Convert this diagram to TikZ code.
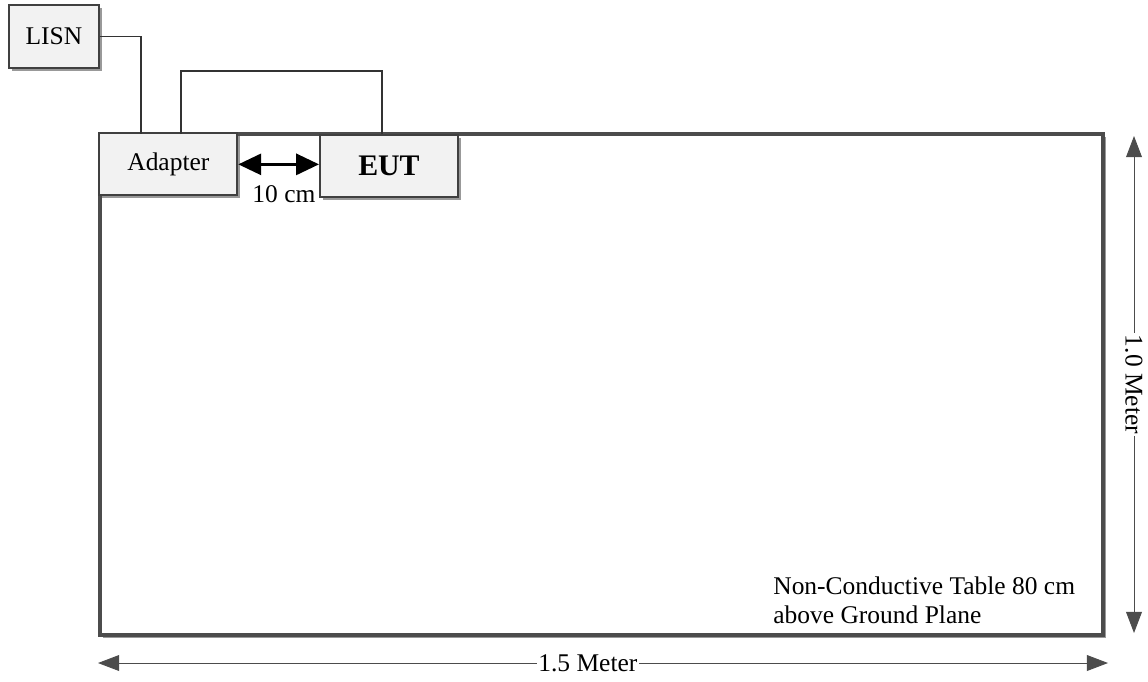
\documentclass[tikz,border=0pt]{standalone}
\usepackage{fontspec}
\setmainfont{Liberation Serif}
\usetikzlibrary{arrows.meta,shadows,positioning}

\begin{document}
\begin{tikzpicture}[x=0.02cm, y=-0.02cm,
		every node/.style={font=\fontsize{14.5}{17}\selectfont},
		box/.style={draw=black!75, line width=1.1pt, fill=black!5, inner sep=0pt,
			drop shadow={shadow xshift=1.5pt, shadow yshift=-1.5pt, fill=black!40, opacity=1}},
		wire/.style={black!80, line width=0.6pt},
		dim/.style={black!70, line width=0.5pt, {Triangle[length=12pt,width=9pt]}-{Triangle[length=12pt,width=9pt]}}]
			\def\boxw{2.76cm}
			\def\boxh{1.24cm}
			\useasboundingbox (0,0) rectangle (1148,681);
			% table
			\node[box, draw=black!70, line width=1.9pt, fill=white, minimum width=20.06cm, minimum height=10.02cm] (table) at (601.5,384.5) {};
			\node[box, anchor=north west, minimum width=\boxw, minimum height=\boxh] (adapter) at (table.north west) {Adapter};
			\node[box, anchor=north west, minimum width=\boxw, minimum height=\boxh, font=\fontsize{17}{20}\selectfont\bfseries] (eut) at (319,134) {EUT};
			\node[box, anchor=north west, minimum width=1.8cm, minimum height=1.26cm] (lisn) at (8,4) {LISN};
			% cables
			\coordinate (plug) at (141,134);
			\coordinate (aout) at (181,134);
			\coordinate (ein) at (382,134);
			\draw[wire] (lisn.east) -| (plug);
			\draw[wire] (aout) -- ++(0,-63) -| (ein);
			% spacing
			\draw[line width=1.5pt, {Triangle[length=13pt,width=12pt]}-{Triangle[length=13pt,width=12pt]}] (adapter.east) -- (adapter.east -| eut.west)
				node[midway, below=8pt, xshift=3pt] {10 cm};
			% dimensions
			\coordinate (dl) at (98,663);
			\coordinate (dr) at (1108,663);
			\coordinate (dt) at (1134,136);
			\coordinate (db) at (1134,633);
			\draw[dim] (dl) -- (dr) node[pos=0.485, fill=white, text=black, inner sep=1pt] {1.5 Meter};
			\draw[dim] (dt) -- (db) node[midway, fill=white, text=black, inner sep=1pt, rotate=-90] {1.0 Meter};
			\node[anchor=north west, align=left, inner sep=0pt] (note) at (773,576) {Non-Conductive Table 80 cm\\above Ground Plane};
		\end{tikzpicture}
\end{document}
